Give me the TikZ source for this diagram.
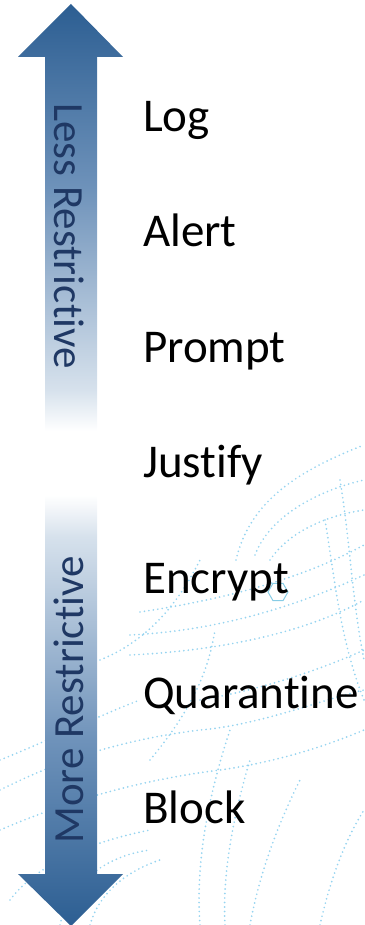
\documentclass[tikz,border=0pt]{standalone}
\usepackage{fontspec}
\setmainfont{Carlito}[Ligatures={NoCommon}]
\usetikzlibrary{shapes.geometric}
\definecolor{arrdark}{RGB}{44,94,146}
\definecolor{arrmid}{RGB}{110,146,186}
\definecolor{arrlight}{RGB}{214,225,236}
\definecolor{navytext}{RGB}{31,56,100}
\definecolor{topoc}{RGB}{150,212,240}
\pgfdeclareverticalshading{upshade}{100bp}{color(0bp)=(white); color(28.5bp)=(white); color(33bp)=(arrlight); color(55bp)=(arrmid); color(75bp)=(arrdark); color(100bp)=(arrdark)}
\pgfdeclareverticalshading{downshade}{100bp}{color(0bp)=(arrdark); color(25bp)=(arrdark); color(45bp)=(arrmid); color(67bp)=(arrlight); color(71.5bp)=(white); color(100bp)=(white)}
\tikzset{
  topo/.style={draw=topoc, line width=1.9pt, line cap=round, dash pattern=on 0pt off 4.5pt},
  lbl/.style={anchor=base west, inner sep=0pt, font=\fontsize{47}{51}\selectfont, text=black},
  sidetxt/.style={anchor=base, inner sep=0pt, font=\fontsize{43}{47}\selectfont, text=navytext}
}
\begin{document}
\begin{tikzpicture}[x=1pt,y=-1pt]
\useasboundingbox (0,0) rectangle (364,925);
% background topographic dots
\draw[topo] (236,560) .. controls (250,500) and (300,470) .. (364,445);
\draw[topo] (255,555) .. controls (270,515) and (320,490) .. (364,480);
\draw[topo] (270,560) .. controls (290,530) and (330,515) .. (364,510);
\draw[topo] (140,612) .. controls (220,600) and (300,580) .. (364,545);
\draw[topo] (130,635) .. controls (230,630) and (310,600) .. (364,575);
\draw[topo] (130,655) .. controls (230,650) and (310,630) .. (364,600);
\draw[topo] (200,700) .. controls (260,690) and (320,670) .. (364,650);
\draw[topo] (0,790) .. controls (60,760) and (120,740) .. (200,730) .. controls (260,725) and (320,700) .. (364,690);
\draw[topo] (0,830) .. controls (70,800) and (140,780) .. (220,770) .. controls (290,760) and (340,740) .. (364,730);
\draw[topo] (0,760) .. controls (50,740) and (100,715) .. (140,700);
\draw[topo] (10,900) .. controls (40,860) and (100,840) .. (150,830);
\draw[topo] (200,925) .. controls (195,860) and (210,790) .. (230,730);
\draw[topo] (225,925) .. controls (222,870) and (235,810) .. (250,760);
\draw[topo] (250,925) .. controls (260,870) and (280,820) .. (300,780);
\draw[topo] (320,925) .. controls (330,880) and (345,840) .. (364,810);
\draw[topo] (90,925) .. controls (100,890) and (130,870) .. (160,860);
\draw[topo] (60,925) .. controls (70,880) and (110,855) .. (150,850);
\draw[topo] (340,480) .. controls (350,540) and (352,600) .. (364,660);
\draw[topo] (325,520) .. controls (335,580) and (340,640) .. (364,700);
\draw[topo] (100,660) .. controls (150,640) and (180,600) .. (200,560);
\draw[topo] (150,760) .. controls (200,700) and (210,660) .. (215,630);
\node[regular polygon, regular polygon sides=6, draw=topoc!90!teal, line width=1pt, minimum size=20pt, inner sep=0pt] (hex) at (278,592) {};
% double arrow, upper half
\path[shading=upshade] (71,4) -- (123,57) -- (97,57) -- (97,463) -- (45,463) -- (45,57) -- (18,57) -- cycle;
% lower half
\path[shading=downshade] (45,463) -- (97,463) -- (97,874) -- (123,874) -- (71,926) -- (18,874) -- (45,874) -- cycle;
% side texts
\node[sidetxt, rotate=-90] (less) at (54,236) {Less Restrictive};
\node[sidetxt, rotate=90] (more) at (83,700) {More Restrictive};
% labels
\node[lbl] (log) at (143,132) {Log};
\node[lbl] (alert) at (143,247) {Alert};
\node[lbl] (prompt) at (143,362) {Prompt};
\node[lbl] (justify) at (143,477) {Justify};
\node[lbl] (encrypt) at (143,593) {Encrypt};
\node[lbl] (quar) at (143,708) {Quarantine};
\node[lbl] (block) at (143,823) {Block};
\end{tikzpicture}
\end{document}
